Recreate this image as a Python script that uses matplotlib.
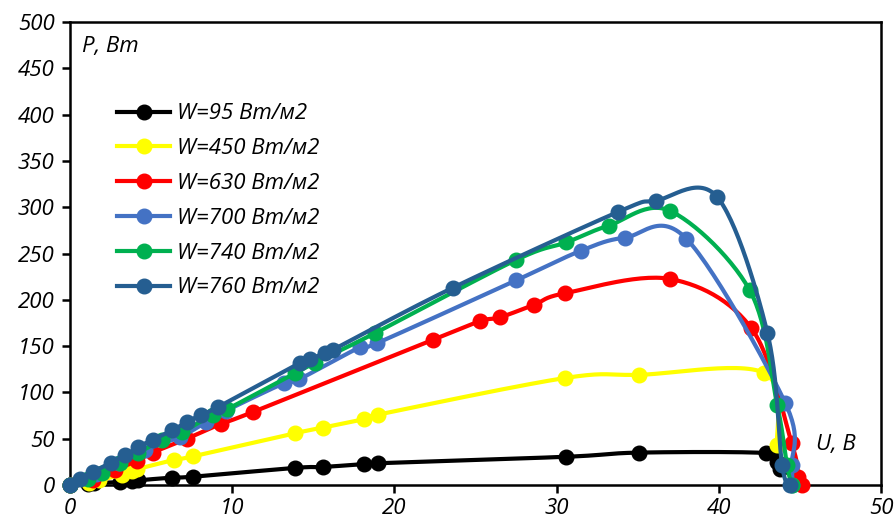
import numpy as np
import matplotlib
matplotlib.use('Agg')
import matplotlib.pyplot as plt

plt.rcParams['font.family'] = ['Open Sans', 'DejaVu Sans']
plt.rcParams['font.style'] = 'italic'

# P(U) curves of the panel for several irradiance levels
u_95 = [0, 1.1, 1.5, 3.1, 3.8, 4.2, 6.3, 7.6, 13.9, 15.6, 18.1, 19.0, 30.6, 35.1, 42.9, 43.6, 43.8]
p_95 = [0, 1, 2, 3, 4, 5, 8, 9, 18.5, 19.5, 22.5, 23.5, 30.5, 35, 34.5, 25, 17]

u_450 = [0, 1.2, 1.8, 3.2, 3.8, 4.1, 6.4, 7.6, 13.9, 15.6, 18.1, 19.0, 30.5, 35.1, 42.8, 43.6]
p_450 = [0, 2, 5, 11, 15, 17, 27, 31, 56, 62, 71, 76, 115.5, 119, 121, 43]

u_630 = [0, 1.4, 2.8, 4.1, 5.1, 7.2, 9.3, 11.3, 22.4, 25.3, 26.5, 28.6, 30.5, 37.0, 42.0, 44.5, 44.9, 45.1]
p_630 = [0, 5, 16, 26, 35, 50, 66, 79, 157, 177, 181, 194.5, 207, 222.5, 169.5, 45, 9, 0]

u_700 = [0, 1.6, 3.0, 4.6, 6.8, 8.4, 9.6, 13.2, 14.1, 17.9, 18.9, 27.5, 31.5, 34.2, 38.0, 44.1, 44.5, 44.5]
p_700 = [0, 12, 24, 38, 52, 68, 80, 110, 114, 149, 153, 221, 253, 267, 266, 88.5, 21.6, 0]

u_740 = [0, 1.1, 2.0, 3.1, 4.2, 5.7, 6.9, 8.8, 9.7, 13.9, 15.1, 18.8, 27.5, 30.6, 33.2, 37.0, 41.9, 43.6, 44.2, 44.5]
p_740 = [0, 6.5, 13, 24, 34.5, 49, 57, 76, 82, 121, 132, 164, 243, 262, 280, 296, 210.5, 86.4, 21.6, 0]

u_760 = [0, 0.6, 1.4, 2.5, 3.4, 4.2, 5.1, 6.3, 7.2, 8.1, 9.1, 14.2, 14.8, 15.7, 16.2, 23.6,
         33.8, 36.1, 39.9, 43.0, 43.9, 44.4]
p_760 = [0, 6.5, 14, 24, 32, 41, 49, 59, 68, 76, 84, 132, 136, 142.5, 146, 213,
         295, 307, 311, 164, 21.6, 0]

series = [
    (u_95, p_95, 'W=95 Вт/м2', 'black'),
    (u_450, p_450, 'W=450 Вт/м2', '#FFFF00'),
    (u_630, p_630, 'W=630 Вт/м2', '#FF0000'),
    (u_700, p_700, 'W=700 Вт/м2', '#4472C4'),
    (u_740, p_740, 'W=740 Вт/м2', '#00B050'),
    (u_760, p_760, 'W=760 Вт/м2', '#255E91'),
]

xmax, ymax = 50, 500
# axes box size in pixels, so the smoothing is done in screen space
box_w, box_h = 811, 463


def smooth(u, p, n=30):
    # Bezier smoothing through every point (Catmull-Rom style control points)
    x = np.asarray(u, float) / xmax * box_w
    y = np.asarray(p, float) / ymax * box_h
    pts = np.column_stack([x, y])
    pts = np.vstack([pts[0], pts, pts[-1]])
    out = [pts[1]]
    t = np.linspace(0, 1, n)[1:, None]
    for i in range(1, len(pts) - 2):
        p0, p1, p2, p3 = pts[i - 1], pts[i], pts[i + 1], pts[i + 2]
        c1 = p1 + (p2 - p0) / 6
        c2 = p2 - (p3 - p1) / 6
        seg = ((1 - t) ** 3 * p1 + 3 * (1 - t) ** 2 * t * c1
               + 3 * (1 - t) * t ** 2 * c2 + t ** 3 * p2)
        out.extend(seg)
    out = np.array(out)
    return out[:, 0] / box_w * xmax, out[:, 1] / box_h * ymax


fig = plt.figure(figsize=(8.96, 5.24), dpi=100)
ax = fig.add_axes([70 / 896, 39 / 524, 811 / 896, 463 / 524])

handles = []
for k, (u, p, lab, col) in enumerate(series):
    xs, ys = smooth(u, p)
    ax.plot(xs, ys, color=col, lw=3, solid_capstyle='round', zorder=2 + k, clip_on=False)
    ax.plot(u, p, 'o', color=col, ms=10.5, zorder=2 + k, clip_on=False)
    h, = ax.plot([], [], '-o', color=col, lw=3, ms=10.5, label=lab)
    handles.append(h)

ax.set_xlim(0, xmax)
ax.set_ylim(0, ymax)
ax.set_xticks(np.arange(0, 51, 10))
ax.set_yticks(np.arange(0, 501, 50))

fs = 16
for s in ax.spines.values():
    s.set_linewidth(1.8)
    s.set_color('black')
ax.tick_params(axis='both', direction='out', length=6, width=1.8, labelsize=fs, pad=3)
ax.tick_params(axis='y', pad=5)
for lbl in ax.get_xticklabels() + ax.get_yticklabels():
    lbl.set_fontstyle('italic')

ax.text(0.015, 0.97, 'P, Вт', transform=ax.transAxes, fontsize=fs, style='italic',
        va='top', ha='left')
ax.text(0.92, 0.088, 'U, В', transform=ax.transAxes, fontsize=fs, style='italic',
        va='center', ha='left')

leg = ax.legend(handles=handles, loc='upper left', bbox_to_anchor=(0.058, 0.824),
                frameon=False, fontsize=fs, handlelength=2.4, handletextpad=0.3,
                labelspacing=0.62, borderpad=0, borderaxespad=0, numpoints=1)
for t in leg.get_texts():
    t.set_fontstyle('italic')

fig.savefig('out.png', dpi=100)
